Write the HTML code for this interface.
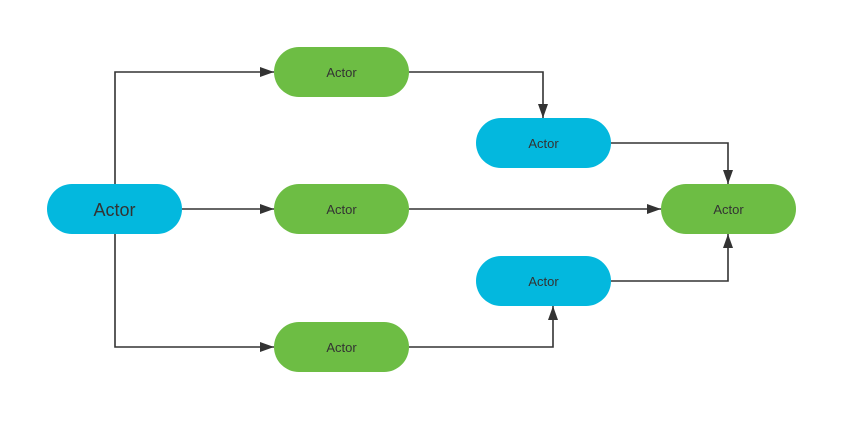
<!DOCTYPE html>
<html><head><style>body{margin:0;background:#fff}svg{display:block}</style></head>
<body>
<svg width="857" height="433" viewBox="0 0 857 433" xmlns="http://www.w3.org/2000/svg">
<defs><marker id="a" markerWidth="14" markerHeight="10" refX="14" refY="5" orient="auto" markerUnits="userSpaceOnUse"><path d="M0,0 L14,5 L0,10 Z" fill="#333"/></marker></defs>
<g stroke="#333" stroke-width="1.6" fill="none">
<path d="M115,184 V72 H274" marker-end="url(#a)"/>
<path d="M182,209 H274" marker-end="url(#a)"/>
<path d="M115,234 V347 H274" marker-end="url(#a)"/>
<path d="M409,72 H543 V118" marker-end="url(#a)"/>
<path d="M409,209 H661" marker-end="url(#a)"/>
<path d="M409,347 H553 V306" marker-end="url(#a)"/>
<path d="M611,143 H728 V184" marker-end="url(#a)"/>
<path d="M611,281 H728 V234" marker-end="url(#a)"/>
</g>
<g font-family="Liberation Sans, sans-serif" fill="#333" text-anchor="middle">
<rect x="47" y="184" width="135" height="50" rx="25" fill="#03b8de"/>
<text x="114.5" y="216" font-size="18">Actor</text>
<rect x="274" y="47" width="135" height="50" rx="25" fill="#6dbd44"/>
<text x="341.5" y="77" font-size="13">Actor</text>
<rect x="274" y="184" width="135" height="50" rx="25" fill="#6dbd44"/>
<text x="341.5" y="214" font-size="13">Actor</text>
<rect x="274" y="322" width="135" height="50" rx="25" fill="#6dbd44"/>
<text x="341.5" y="352" font-size="13">Actor</text>
<rect x="476" y="118" width="135" height="50" rx="25" fill="#03b8de"/>
<text x="543.5" y="148" font-size="13">Actor</text>
<rect x="476" y="256" width="135" height="50" rx="25" fill="#03b8de"/>
<text x="543.5" y="286" font-size="13">Actor</text>
<rect x="661" y="184" width="135" height="50" rx="25" fill="#6dbd44"/>
<text x="728.5" y="214" font-size="13">Actor</text>
</g>
</svg>
</body></html>
